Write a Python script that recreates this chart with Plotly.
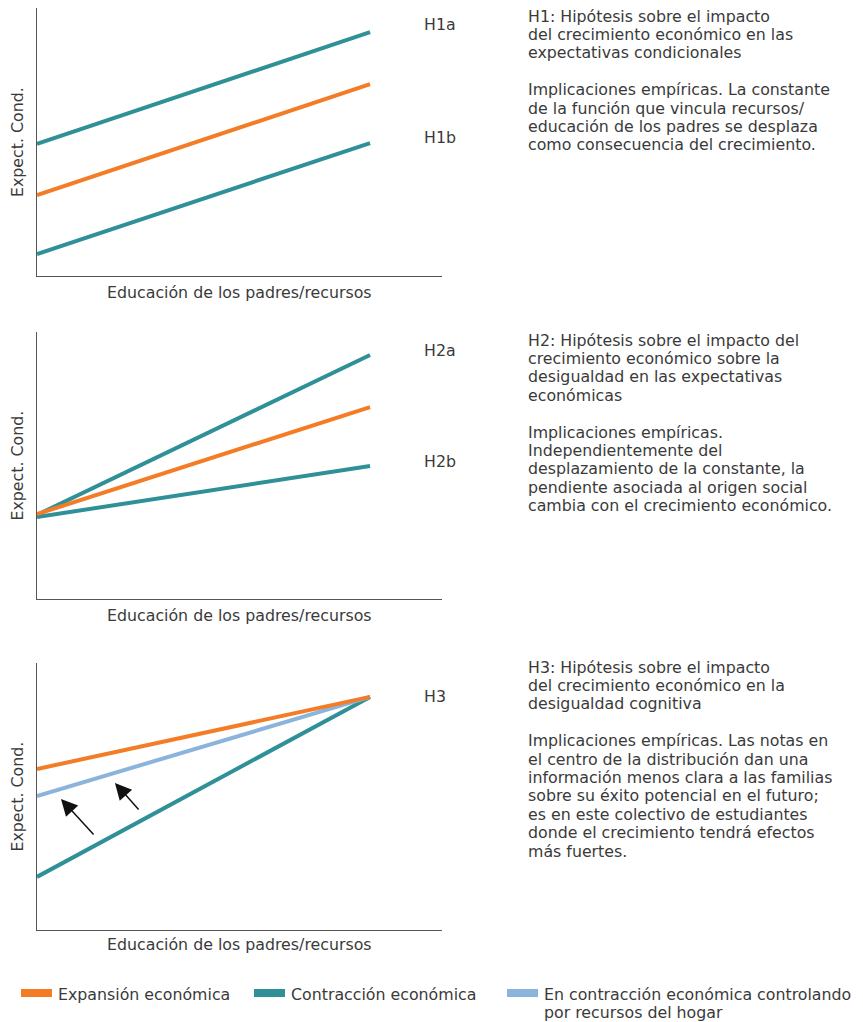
import plotly.graph_objects as go

# ---------------- data ----------------
x_pts = [0, 10]

# Panel 1 (H1)
p1_teal_top = [4.93, 9.10]
p1_orange = [3.02, 7.16]
p1_teal_bottom = [0.82, 4.96]

# Panel 2 (H2)
p2_teal_top = [3.15, 9.14]
p2_orange = [3.18, 7.19]
p2_teal_bottom = [3.07, 4.98]

# Panel 3 (H3)
p3_teal = [1.99, 8.73]
p3_lightblue = [5.02, 8.73]
p3_orange = [6.03, 8.73]

# arrows in panel 3: (tail_x, tail_y, head_x, head_y)
p3_arrows = [(1.74, 3.52, 0.72, 4.91), (3.09, 4.46, 2.34, 5.51)]

series_names = ["Expansión económica", "Contracción económica",
                "En contracción económica controlando<br>por recursos del hogar"]

panel_labels = [["H1a", "H1b"], ["H2a", "H2b"], ["H3"]]

y_title = "Expect. Cond."
x_title = "Educación de los padres/recursos"

text_h1 = ["H1: Hipótesis sobre el impacto",
           "del crecimiento económico en las",
           "expectativas condicionales",
           "",
           "Implicaciones empíricas. La constante",
           "de la función que vincula recursos/",
           "educación de los padres se desplaza",
           "como consecuencia del crecimiento."]
text_h2 = ["H2: Hipótesis sobre el impacto del",
           "crecimiento económico sobre la",
           "desigualdad en las expectativas",
           "económicas",
           "",
           "Implicaciones empíricas.",
           "Independientemente del",
           "desplazamiento de la constante, la",
           "pendiente asociada al origen social",
           "cambia con el crecimiento económico."]
text_h3 = ["H3: Hipótesis sobre el impacto",
           "del crecimiento económico en la",
           "desigualdad cognitiva",
           "",
           "Implicaciones empíricas. Las notas en",
           "el centro de la distribución dan una",
           "información menos clara a las familias",
           "sobre su éxito potencial en el futuro;",
           "es en este colectivo de estudiantes",
           "donde el crecimiento tendrá efectos",
           "más fuertes."]

# ---------------- style ----------------
W, H = 863, 1022
ORANGE = "#F47C26"
TEAL = "#2F9197"
LBLUE = "#8BB4DC"
TXT = "#3a3a3a"
AXIS = "#555555"
FONT = "DejaVu Sans, Liberation Sans, Arial, sans-serif"
FS = 15.8
LW = 4

def px(xpix):
    return xpix / W

def py(ypix):
    return 1 - ypix / H

# panel pixel boxes: (top, bottom)
panels = [(8, 276), (332, 599), (663, 930)]
x_left, x_right = 37, 442
XR = [0, 12.16]
YR = [0, 10]

fig = go.Figure()

def add_line(idx, y, color, name):
    fig.add_trace(go.Scatter(
        x=x_pts, y=y, mode="lines",
        line=dict(color=color, width=LW),
        name=name.replace("<br>", " "), showlegend=False,
        xaxis="x" if idx == 0 else f"x{idx+1}",
        yaxis="y" if idx == 0 else f"y{idx+1}",
        hoverinfo="skip"))

# panel 1
add_line(0, p1_teal_top, TEAL, series_names[1])
add_line(0, p1_teal_bottom, TEAL, series_names[1])
add_line(0, p1_orange, ORANGE, series_names[0])
# panel 2
add_line(1, p2_teal_top, TEAL, series_names[1])
add_line(1, p2_teal_bottom, TEAL, series_names[1])
add_line(1, p2_orange, ORANGE, series_names[0])
# panel 3
add_line(2, p3_teal, TEAL, series_names[1])
add_line(2, p3_lightblue, LBLUE, series_names[2])
add_line(2, p3_orange, ORANGE, series_names[0])

axis_common = dict(showgrid=False, zeroline=False, showticklabels=False,
                   ticks="", showline=True, linecolor=AXIS, linewidth=1,
                   fixedrange=True)
layout_axes = {}
for i, (top, bottom) in enumerate(panels):
    sx = "" if i == 0 else str(i + 1)
    layout_axes[f"xaxis{sx}"] = dict(axis_common, domain=[px(x_left), px(x_right)],
                                     range=XR, anchor=f"y{sx}")
    layout_axes[f"yaxis{sx}"] = dict(axis_common, domain=[py(bottom), py(top)],
                                     range=YR, anchor=f"x{sx}")

annotations = []
def txt(x, y, s, xanchor="left", size=FS, angle=0):
    annotations.append(dict(x=px(x), y=py(y), xref="paper", yref="paper",
                            text=s, showarrow=False, xanchor=xanchor,
                            yanchor="middle", textangle=angle, borderpad=0,
                            font=dict(family=FONT, size=size, color=TXT)))

# axis titles
for (top, bottom) in panels:
    txt(17, (top + bottom) / 2, y_title, xanchor="center", angle=-90)
x_title_y = [292, 615, 944]
for yy in x_title_y:
    txt((x_left + x_right) / 2, yy, x_title, xanchor="center")

# H labels
label_pos = [[25, 138], [350, 461], [696]]
for labs, poss in zip(panel_labels, label_pos):
    for lab, yy in zip(labs, poss):
        txt(423, yy, lab)

# right-side text
LEAD = 18.4
for lines, y0 in [(text_h1, 16), (text_h2, 340), (text_h3, 667)]:
    for i, s in enumerate(lines):
        if s:
            txt(527, y0 + i * LEAD, s)

# arrows
for (tx, ty, hx, hy) in p3_arrows:
    annotations.append(dict(x=hx, y=hy, ax=tx, ay=ty, xref="x3", yref="y3",
                            axref="x3", ayref="y3", text="", showarrow=True,
                            arrowhead=2, arrowsize=2.2, arrowwidth=1.5,
                            arrowcolor="#111111"))

# legend (drawn as key swatches + labels)
legend_colors = [ORANGE, TEAL, LBLUE]
legend_swatch_x = [21, 254, 507]
shapes = []
for name, col, sx0 in zip(series_names, legend_colors, legend_swatch_x):
    shapes.append(dict(type="rect", xref="paper", yref="paper",
                       x0=px(sx0), x1=px(sx0 + 31), y0=py(997), y1=py(989),
                       fillcolor=col, line=dict(width=0)))
    for j, part in enumerate(name.split("<br>")):
        txt(sx0 + 36, 994 + j * 18.5, part)

fig.update_layout(
    width=W, height=H,
    margin=dict(l=0, r=0, t=0, b=0),
    paper_bgcolor="white", plot_bgcolor="white",
    font=dict(family=FONT, size=FS, color=TXT),
    showlegend=False,
    annotations=annotations,
    shapes=shapes,
    **layout_axes,
)

fig.write_html("out.html", config={"displayModeBar": False},
               post_script="document.body.style.margin='0px';")
